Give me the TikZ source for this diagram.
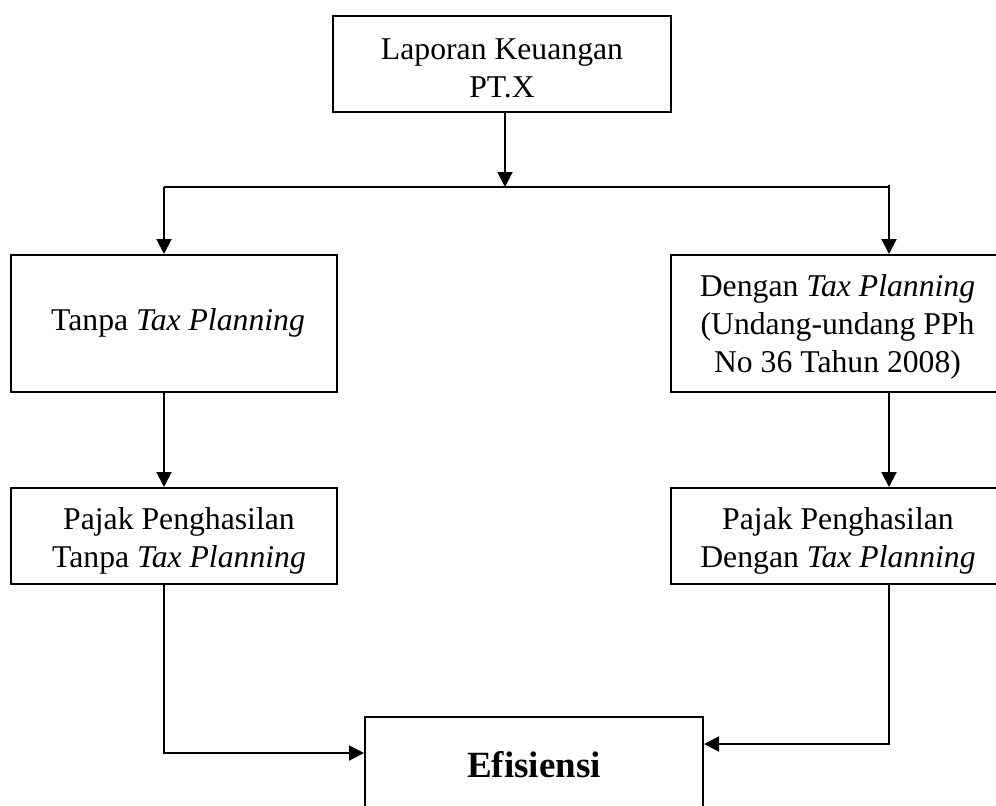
\documentclass[tikz,border=0pt]{standalone}
\usepackage{fontspec}
\setmainfont{Liberation Serif}
\usetikzlibrary{arrows.meta}

\begin{document}
\begin{tikzpicture}[x=0.5pt,y=0.5pt]
\tikzset{
  box/.style={draw, line width=1pt, inner sep=0pt, minimum width=#1*0.5pt},
  txt/.style={inner sep=0pt, anchor=base, align=center, font=\fontsize{15.85}{19}\selectfont},
  arr/.style={line width=1pt, -{Triangle[length=7.5pt,width=7.5pt]}},
  link/.style={line width=1pt}
}
\useasboundingbox (0,0) rectangle (996,-805);
\node [box=338, minimum height=48pt] (laporan) at (502,-64) {};
\node [txt] (laporantxt) at (502,-97) {Laporan Keuangan\\PT.X};
\node [box=326, minimum height=68.5pt] (tanpa) at (174,-323.5) {};
\node [txt] (tanpatxt) at (178,-330) {Tanpa \textit{Tax Planning}};
\node [box=333, minimum height=68.5pt] (dengan) at (837.5,-323.5) {};
\node [txt] (dengantxt) at (837.5,-372) {Dengan \textit{Tax Planning}\\(Undang-undang PPh\\No 36 Tahun 2008)};
\node [box=326, minimum height=48pt] (pphtanpa) at (174,-536) {};
\node [box=333, minimum height=48pt] (pphdengan) at (837.5,-536) {};
\begin{scope}
\clip (pphtanpa.north west) rectangle ([yshift=6pt]pphtanpa.south east);
\node [txt] (pphtanpatxt) at (179,-567) {Pajak Penghasilan\\Tanpa \textit{Tax Planning}};
\end{scope}
\begin{scope}
\clip (pphdengan.north west) rectangle ([yshift=6pt]pphdengan.south east);
\node [txt] (pphdengantxt) at (838,-567) {Pajak Penghasilan\\Dengan \textit{Tax Planning}};
\end{scope}
\node [box=338, minimum height=71.5pt] (efisiensi) at (534,-788.5) {};
\node [txt, font=\fontsize{18.5}{22}\selectfont\bfseries] (efisiensitxt) at (534,-777) {Efisiensi};
\coordinate (split) at (505,-187);
\coordinate (lsplit) at (164,-187);
\coordinate (rsplit) at (889,-187);
\coordinate (ltop) at (164,-392);
\coordinate (rtop) at (889,-392);
\coordinate (lbot) at (164,-584);
\coordinate (rbot) at (889,-584);
\coordinate (lcorner) at (164,-753);
\coordinate (rcorner) at (889,-744);
\draw [arr] (laporan.south -| split) -- (split);
\draw [link] (lsplit) -- (rsplit) -- ++(0,2);
\draw [arr] (lsplit) -- (lsplit |- tanpa.north);
\draw [arr] (rsplit) -- (rsplit |- dengan.north);
\draw [arr] (ltop) -- (ltop |- pphtanpa.north);
\draw [arr] (rtop) -- (rtop |- pphdengan.north);
\draw [arr] (lbot) -- (lcorner) -- (lcorner -| efisiensi.west);
\draw [arr] (rbot) -- (rcorner) -- (rcorner -| efisiensi.east);
\end{tikzpicture}
\end{document}
